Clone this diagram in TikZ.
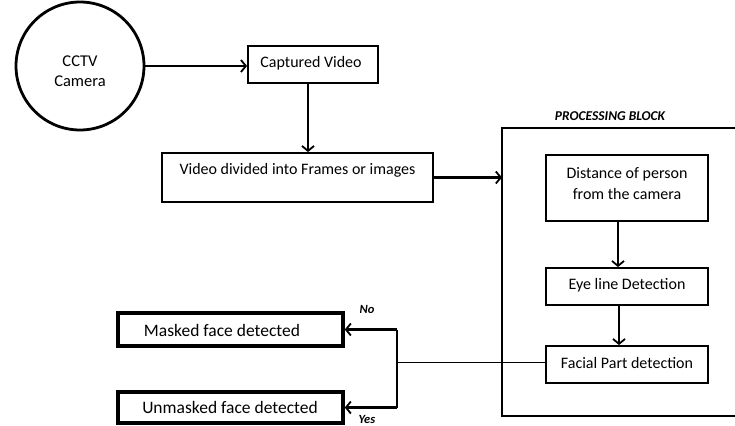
\documentclass[tikz,border=0pt]{standalone}
\usepackage{fontspec}
\setmainfont{Carlito}
\usetikzlibrary{arrows.meta}
\begin{document}
\begin{tikzpicture}[x=1pt,y=-1pt,
  box/.style={draw,line width=1.8pt,inner sep=0pt,rectangle},
  thickbox/.style={draw,line width=3.4pt,inner sep=0pt,rectangle},
  txt/.style={font=\fontsize{16}{20}\selectfont,inner sep=0pt,align=center},
  bigtxt/.style={font=\fontsize{17.5}{21}\selectfont,inner sep=0pt},
  lbl/.style={font=\fontsize{12.5}{14}\selectfont\bfseries\itshape,inner sep=0pt},
  arr/.style={line width=2.1pt,-{Straight Barb[length=5pt,width=12pt,line width=1.8pt]}},
]
\useasboundingbox (0,0) rectangle (735,425);
% camera
\node[draw,circle,line width=2.8pt,minimum size=128pt,inner sep=0pt] (cam) at (80,66) {};
\node[txt,font=\fontsize{16.5}{20}\selectfont] (camtxt) at (80,71) {CCTV\\[0pt]Camera};
% boxes
\node[box,minimum width=130pt,minimum height=37pt] (cap) at (313,64.5) {};
\node[txt] (captxt) at (311,63.5) {Captured Video};
\node[box,minimum width=271pt,minimum height=49pt] (vid) at (297.5,177.5) {};
\node[txt] (vidtxt) at (297.5,170) {Video divided into Frames or images};
% processing block
\coordinate (pNW) at (502,128);
\coordinate (pSW) at (502,416);
\coordinate (pNE) at (740,128);
\coordinate (pSE) at (740,416);
\draw[line width=1.6pt] (pNE) -- (pNW) -- (pSW) -- (pSE);
\node[lbl,font=\fontsize{13.5}{15}\selectfont\bfseries\itshape] (ptitle) at (610,116) {PROCESSING BLOCK};
\node[box,minimum width=162pt,minimum height=66pt] (dist) at (627,188) {};
\node[txt] (disttxt) at (627,184) {Distance of person\\[1pt]from the camera};
\node[box,minimum width=162pt,minimum height=37pt] (eye) at (627,286.5) {};
\node[txt] (eyetxt) at (627,285) {Eye line Detection};
\node[box,minimum width=162pt,minimum height=37pt] (fac) at (627,364.5) {};
\node[txt] (factxt) at (627,363) {Facial Part detection};
% outputs
\node[thickbox,minimum width=225pt,minimum height=33pt] (mask) at (230.5,329.5) {};
\node[bigtxt] (masktxt) at (222,330) {Masked face detected};
\node[thickbox,minimum width=225pt,minimum height=31pt] (unm) at (230.5,407.5) {};
\node[bigtxt] (unmtxt) at (230,407.5) {Unmasked face detected};
\node[lbl] (no) at (367,309) {No};
\node[lbl] (yes) at (367,419) {Yes};
% connectors
\draw[arr] (cam.east) -- (cam.east -| cap.west);
\draw[arr] ([xshift=-5pt]cap.south) -- ([xshift=-5pt]cap.south |- vid.north);
\draw[arr] (vid.east) -- (vid.east -| pNW);
\draw[arr] ([xshift=-9pt]dist.south) -- ([xshift=-9pt]eye.north);
\draw[arr] ([xshift=-8pt]eye.south) -- ([xshift=-8pt]fac.north);
\coordinate (br) at (397,367);
\draw[line width=1.1pt] ([yshift=2pt]fac.west) -- ([yshift=2pt]fac.west -| br);
\draw[line width=1.9pt] (br |- mask.east) -- (br |- unm.east);
\draw[arr] (br |- mask.east) -- (mask.east);
\draw[arr] (br |- unm.east) -- (unm.east);
\end{tikzpicture}
\end{document}
